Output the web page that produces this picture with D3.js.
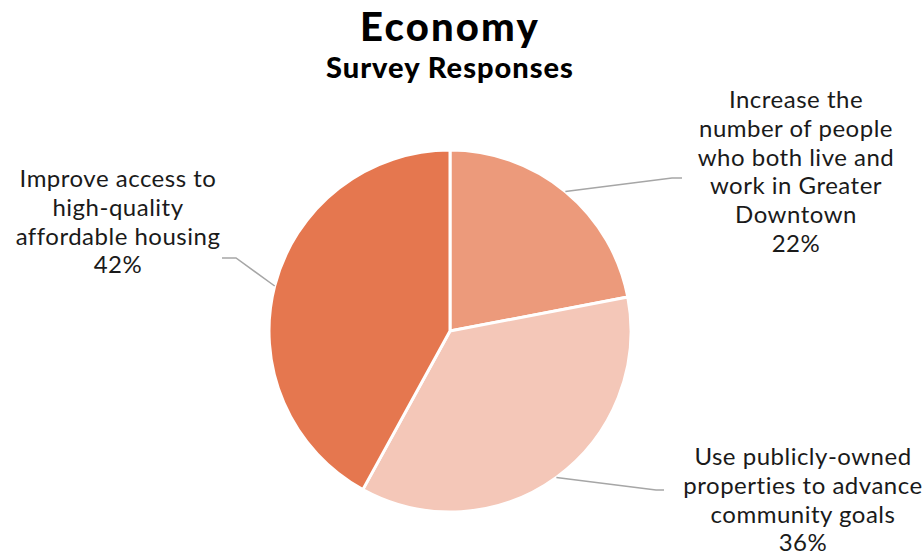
<!DOCTYPE html>
<html><head><meta charset="utf-8">
<script src="https://cdn.jsdelivr.net/npm/d3@7"></script>
<style>body{margin:0;background:#fff}</style>
</head><body><svg id="c" width="923" height="558"></svg>
<script>
const categories = [
  "Increase the number of people who both live and work in Greater Downtown",
  "Use publicly-owned properties to advance community goals",
  "Improve access to high-quality affordable housing"
];
const values = [22, 36, 42];
const labelLines = [
  ["Increase the","number of people","who both live and","work in Greater","Downtown","22%"],
  ["Use publicly-owned","properties to advance","community goals","36%"],
  ["Improve access to","high-quality","affordable housing","42%"]
];
const colors = ["#EC9A7B", "#F4C7B8", "#E5774F"];

const svg = d3.select("#c");
const font = "Lato, 'Noto Sans', sans-serif";
const cx = 450, cy = 331, r = 181;

svg.append("text").attr("x", 450).attr("y", 40.5).attr("text-anchor","middle")
  .attr("font-family", font).attr("font-weight", 900).attr("font-size", 40)
  .attr("letter-spacing", 2.2).text("Economy");
svg.append("text").attr("x", 450).attr("y", 78).attr("text-anchor","middle")
  .attr("font-family", font).attr("font-weight", 900).attr("font-size", 29)
  .attr("letter-spacing", 1).text("Survey Responses");

const pie = d3.pie().sort(null).value(d => d)(values);
const arc = d3.arc().innerRadius(0).outerRadius(r);
const g = svg.append("g").attr("transform", `translate(${cx},${cy})`);
g.selectAll("path").data(pie).join("path")
  .attr("d", arc).attr("fill", (d,i) => colors[i])
  .attr("stroke", "#fff").attr("stroke-width", 3).attr("stroke-linejoin","round");

const labelPos = [
  {x: 796, y: 108, elbow: [672, 178], end: [682, 178]},
  {x: 803, y: 465, elbow: [656, 490], end: [664, 490]},
  {x: 118, y: 187, elbow: [236, 258], end: [222, 258]}
];
const lh = 28.8;
pie.forEach((d, i) => {
  const p = labelPos[i];
  const t = svg.append("text").attr("text-anchor","middle")
    .attr("font-family", font).attr("font-size", 24).attr("letter-spacing", 0.5)
    .attr("fill", "#1a1a1a");
  labelLines[i].forEach((ln, k) => {
    t.append("tspan").attr("x", p.x).attr("y", p.y + k*lh).text(ln);
  });
  const a = (d.startAngle + d.endAngle) / 2;
  const ex = cx + r * Math.sin(a), ey = cy - r * Math.cos(a);
  svg.append("polyline")
    .attr("points", [[ex, ey], p.elbow, p.end].map(q => q.join(",")).join(" "))
    .attr("fill","none").attr("stroke","#A6A6A6").attr("stroke-width",1.5);
});
</script></body></html>
